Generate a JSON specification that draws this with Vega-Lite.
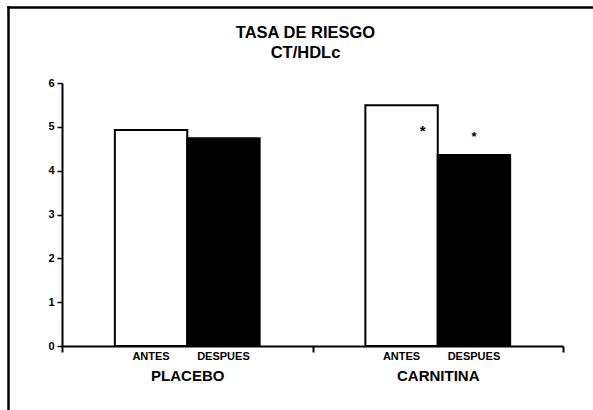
{
  "$schema": "https://vega.github.io/schema/vega-lite/v6.json",
  "width": 585,
  "height": 403,
  "autosize": {"type": "none"},
  "padding": {"left": 8, "top": 7, "right": 0, "bottom": 0},
  "background": "white",
  "config": {
    "view": {"stroke": null},
    "font": "Liberation Sans"
  },
  "title": {
    "text": ["TASA DE RIESGO", "CT/HDLc"],
    "font": "Liberation Sans",
    "fontSize": 16.5,
    "fontWeight": "bold",
    "color": "black",
    "anchor": "middle",
    "frame": "group",
    "offset": -54,
    "dx": 5,
    "lineHeight": 20
  },
  "datasets": {
    "barras": [
      {"grupo": "PLACEBO", "periodo": "ANTES", "valor": 4.93},
      {"grupo": "PLACEBO", "periodo": "DESPUES", "valor": 4.74},
      {"grupo": "CARNITINA", "periodo": "ANTES", "valor": 5.49},
      {"grupo": "CARNITINA", "periodo": "DESPUES", "valor": 4.36}
    ],
    "marcas": [
      {"grupo": "CARNITINA", "periodo": "ANTES", "signo": "*", "altura": 4.98},
      {"grupo": "CARNITINA", "periodo": "DESPUES", "signo": "*", "altura": 4.84}
    ],
    "marco": [
      {"borde": 0}
    ]
  },
  "resolve": {"scale": {"x": "independent", "y": "independent"}, "axis": {"x": "independent", "y": "independent"}},
  "layer": [
    {
      "layer": [
        {
          "data": {"name": "barras"},
          "mark": {"type": "bar", "stroke": "black", "strokeWidth": 2},
          "encoding": {
            "x": {
              "field": "grupo",
              "type": "nominal",
              "sort": ["PLACEBO", "CARNITINA"],
              "scale": {"range": [54, 555], "paddingInner": 0, "paddingOuter": 0},
              "axis": {
                "title": null,
                "orient": "bottom",
                "offset": -64,
                "tickBand": "extent",
                "domainColor": "black",
                "domainWidth": 2,
                "tickColor": "black",
                "tickWidth": 2,
                "tickSize": 6,
                "labelFont": "Liberation Sans",
                "labelFontWeight": "bold",
                "labelFontSize": 15,
                "labelColor": "black",
                "labelPadding": 16,
                "labelAngle": 0,
                "grid": false
              }
            },
            "xOffset": {
              "field": "periodo",
              "type": "nominal",
              "sort": ["ANTES", "DESPUES"],
              "scale": {"paddingInner": 0, "paddingOuter": 0.73}
            },
            "y": {
              "field": "valor",
              "type": "quantitative",
              "scale": {"domain": [0, 6], "range": [339, 76], "nice": false},
              "axis": {
                "title": null,
                "orient": "left",
                "offset": -54,
                "values": [0, 1, 2, 3, 4, 5, 6],
                "format": "d",
                "domainColor": "black",
                "domainWidth": 2,
                "tickColor": "black",
                "tickWidth": 1.5,
                "tickSize": 5,
                "labelFont": "Liberation Sans",
                "labelFontWeight": "bold",
                "labelFontSize": 11,
                "labelColor": "black",
                "labelPadding": 3,
                "grid": false
              }
            },
            "fill": {
              "field": "periodo",
              "type": "nominal",
              "scale": {"domain": ["ANTES", "DESPUES"], "range": ["white", "black"]},
              "legend": null
            }
          }
        },
        {
          "data": {"name": "barras"},
          "mark": {"type": "text", "font": "Liberation Sans", "fontSize": 11, "fontWeight": "bold", "color": "black", "baseline": "middle", "dy": 11},
          "encoding": {
            "x": {"field": "grupo", "type": "nominal", "sort": ["PLACEBO", "CARNITINA"]},
            "xOffset": {"field": "periodo", "type": "nominal", "sort": ["ANTES", "DESPUES"]},
            "y": {"datum": 0, "type": "quantitative"},
            "text": {"field": "periodo"}
          }
        },
        {
          "data": {"name": "marcas"},
          "transform": [{"filter": "datum.periodo === 'ANTES'"}],
          "mark": {"type": "text", "font": "Liberation Sans", "fontSize": 15, "fontWeight": "bold", "color": "black", "baseline": "middle", "dy": 3, "dx": 21},
          "encoding": {
            "x": {"field": "grupo", "type": "nominal", "sort": ["PLACEBO", "CARNITINA"]},
            "xOffset": {"field": "periodo", "type": "nominal", "sort": ["ANTES", "DESPUES"]},
            "y": {"field": "altura", "type": "quantitative"},
            "text": {"field": "signo"}
          }
        },
        {
          "data": {"name": "marcas"},
          "transform": [{"filter": "datum.periodo === 'DESPUES'"}],
          "mark": {"type": "text", "font": "Liberation Sans", "fontSize": 13, "fontWeight": "bold", "color": "black", "baseline": "middle", "dy": 3},
          "encoding": {
            "x": {"field": "grupo", "type": "nominal", "sort": ["PLACEBO", "CARNITINA"]},
            "xOffset": {"field": "periodo", "type": "nominal", "sort": ["ANTES", "DESPUES"]},
            "y": {"field": "altura", "type": "quantitative"},
            "text": {"field": "signo"}
          }
        }
      ]
    },
    {
      "data": {"name": "marco"},
      "mark": {"type": "point", "opacity": 0},
      "encoding": {
        "x": {
          "field": "borde",
          "type": "quantitative",
          "scale": {"domain": [0, 1]},
          "axis": {"orient": "top", "offset": 0, "title": null, "labels": false, "ticks": false, "grid": false, "domain": true, "domainColor": "black", "domainWidth": 2.5, "domainCap": "square"}
        },
        "y": {
          "field": "borde",
          "type": "quantitative",
          "scale": {"domain": [0, 1]},
          "axis": {"orient": "left", "offset": 0, "title": null, "labels": false, "ticks": false, "grid": false, "domain": true, "domainColor": "black", "domainWidth": 2.5, "domainCap": "square"}
        }
      }
    }
  ]
}
